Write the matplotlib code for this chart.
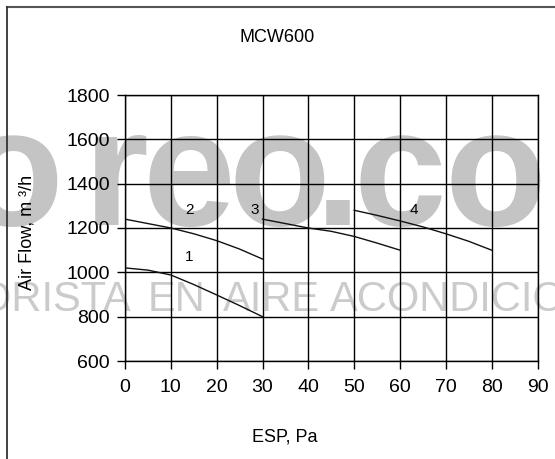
import matplotlib
matplotlib.use("Agg")
import matplotlib.pyplot as plt
from matplotlib.lines import Line2D

plt.rcParams['font.family'] = ['Liberation Sans', 'DejaVu Sans']

# Data
title = "MCW600"
x_label = "ESP, Pa"
y_label = "Air Flow, m \u00b3/h"
x_ticks = [0, 10, 20, 30, 40, 50, 60, 70, 80, 90]
y_ticks = [600, 800, 1000, 1200, 1400, 1600, 1800]

c1_x = [0, 5, 10, 15, 20, 25, 30]
c1_y = [1020, 1010, 988, 945, 898, 850, 800]
c2_x = [0, 5, 10, 15, 20, 25, 30]
c2_y = [1240, 1220, 1200, 1174, 1143, 1105, 1060]
c3_x = [30, 35, 40, 45, 50, 55, 60]
c3_y = [1240, 1220, 1200, 1185, 1162, 1132, 1100]
c4_x = [50, 55, 60, 65, 70, 75, 80]
c4_y = [1280, 1257, 1232, 1205, 1174, 1140, 1100]

curve_labels = ["1", "2", "3", "4"]
label_x = [14.1, 14.1, 28.2, 63]
label_y = [1068, 1280, 1280, 1280]

W, H = 555, 459
fig = plt.figure(figsize=(W / 100, H / 100), dpi=100)
fig.patch.set_facecolor('white')

# watermark (behind the chart), letters placed individually
wm_letters = ["o", "r", "e", "o", ".", "c", "o", "m"]
wm_centers = [12, 116, 189, 279, 338, 400, 495, 625]
for ch, cx in zip(wm_letters, wm_centers):
    fig.text(cx / W, 1 - 225 / H, ch, fontsize=120, fontweight='bold',
             color='#c4c4c4', ha='center', va='baseline', zorder=-2)
wm2_words = ["DORISTA", "EN", "AIRE", "ACONDICIONADO"]
wm2_left = [-50, 148, 223, 330]
for wd, lx in zip(wm2_words, wm2_left):
    fig.text(lx / W, 1 - 311 / H, wd, fontsize=30,
             color='#cbcbcb', ha='left', va='baseline', zorder=-2)

# frame lines (top & left)
fig.add_artist(Line2D([7 / W, 1], [1 - 6.5 / H, 1 - 6.5 / H], transform=fig.transFigure,
                      color='#555555', lw=1.5))
fig.add_artist(Line2D([6.8 / W, 6.8 / W], [0, 1 - 6.5 / H], transform=fig.transFigure,
                      color='#333333', lw=1.3))

ax = fig.add_axes([125 / W, 1 - 361 / H, (537.5 - 125) / W, (361 - 95) / H])
ax.set_facecolor('none')
ax.set_xlim(0, 90)
ax.set_ylim(600, 1800)
ax.set_xticks(x_ticks)
ax.set_yticks(y_ticks)
ax.grid(True, color='black', linewidth=1.0)
ax.set_axisbelow(True)
for s in ax.spines.values():
    s.set_color('black')
    s.set_linewidth(1.0)
ax.tick_params(axis='both', direction='out', length=6, width=1.0, labelsize=14)
ax.tick_params(axis='x', pad=7)
ax.tick_params(axis='y', pad=5)

for xs, ys in [(c1_x, c1_y), (c2_x, c2_y), (c3_x, c3_y), (c4_x, c4_y)]:
    ax.plot(xs, ys, color='#111111', linewidth=1.0)

for t, lx, ly in zip(curve_labels, label_x, label_y):
    ax.text(lx, ly, t, fontsize=11, ha='center', va='center', color='black')

fig.text(0.5, 1 - 37 / H, title, fontsize=13, ha='center', va='center')
fig.text(285 / W, 1 - 437 / H, x_label, fontsize=13, ha='center', va='center')
fig.text(27 / W, 1 - 232 / H, y_label, fontsize=13, ha='center', va='center', rotation=90)

fig.savefig("out.png", dpi=100)
